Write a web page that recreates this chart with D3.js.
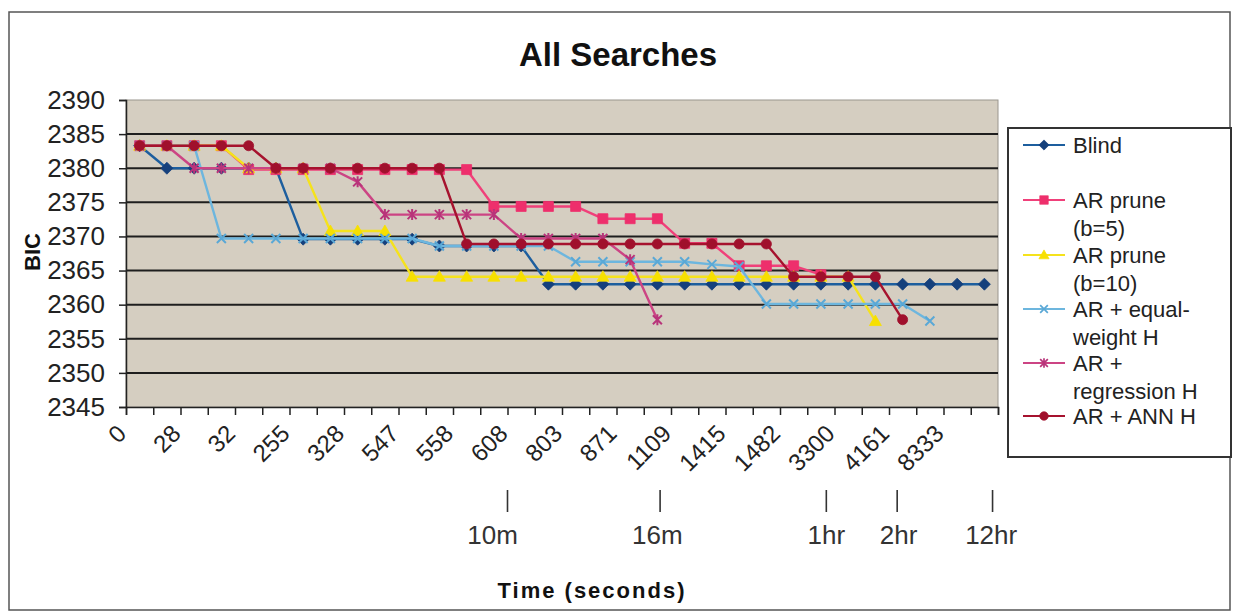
<!DOCTYPE html>
<html><head><meta charset="utf-8">
<script src="https://cdn.jsdelivr.net/npm/d3@7"></script>
<style>
html,body{margin:0;padding:0;background:#fff;}
svg{display:block;font-family:"Liberation Sans",Arial,sans-serif;}
</style></head><body>
<svg id="chart" width="1240" height="615"></svg>
<script>
// Search steps (category axis) and the elapsed-time label shown on every other step
const steps = d3.range(32);
const timeLabels = ["0","28","32","255","328","547","558","608","803","871","1109","1415","1482","3300","4161","8333"];

// Best BIC found so far, per step (null = search finished)
const blind      = [2383.3,2380,2380,2380,2380,2380,2369.6,2369.6,2369.6,2369.6,2369.6,2368.6,2368.6,2368.6,2368.6,2363,2363,2363,2363,2363,2363,2363,2363,2363,2363,2363,2363,2363,2363,2363,2363,2363];
const arPrune5   = [2383.3,2383.3,2383.3,2383.3,2379.8,2379.8,2379.8,2379.8,2379.8,2379.8,2379.8,2379.8,2379.8,2374.4,2374.4,2374.4,2374.4,2372.6,2372.6,2372.6,2369.0,2369.0,2365.7,2365.7,2365.7,2364.4,null,null,null,null,null,null];
const arPrune10  = [2383.3,2383.3,2383.3,2383.3,2380,2380,2380,2370.8,2370.8,2370.8,2364.1,2364.1,2364.1,2364.1,2364.1,2364.1,2364.1,2364.1,2364.1,2364.1,2364.1,2364.1,2364.1,2364.1,2364.1,2364.1,2364.1,2357.6,null,null,null,null];
const arEqualH   = [2383.3,2383.3,2383.3,2369.7,2369.7,2369.7,2369.7,2369.7,2369.7,2369.7,2369.7,2368.6,2368.6,2368.6,2368.6,2368.6,2366.3,2366.3,2366.3,2366.3,2366.3,2365.9,2365.6,2360.1,2360.1,2360.1,2360.1,2360.1,2360.1,2357.6,null,null];
const arRegressH = [2383.3,2383.3,2380,2380,2380,2380,2380,2380,2378.0,2373.2,2373.2,2373.2,2373.2,2373.2,2369.7,2369.7,2369.7,2369.7,2366.6,2357.8,null,null,null,null,null,null,null,null,null,null,null,null];
const arAnnH     = [2383.3,2383.3,2383.3,2383.3,2383.3,2380,2380,2380,2380,2380,2380,2380,2368.9,2368.9,2368.9,2368.9,2368.9,2368.9,2368.9,2368.9,2368.9,2368.9,2368.9,2368.9,2364.1,2364.1,2364.1,2364.1,2357.8,null,null,null];

const seriesNames = ["Blind","AR prune (b=5)","AR prune (b=10)","AR + equal-weight H","AR + regression H","AR + ANN H"];
const seriesValues = [blind, arPrune5, arPrune10, arEqualH, arRegressH, arAnnH];
const legendLines = [["Blind"],["AR prune","(b=5)"],["AR prune","(b=10)"],["AR + equal-","weight H"],["AR +","regression H"],["AR + ANN H"]];
const bicTicks = d3.range(2345, 2391, 5);

// Wall-clock landmarks under the axis, in step units
const timeMarks = [
  {label:"10m", at:14.0, textAt:13.45},
  {label:"16m", at:19.6, textAt:19.5},
  {label:"1hr", at:25.7, textAt:25.7},
  {label:"2hr", at:28.3, textAt:28.35},
  {label:"12hr", at:31.8, textAt:31.75}
];

// Line / marker styles per series
const styles = [
  {line:"#1d5e9e", fill:"#15407c", marker:"diamond"},
  {line:"#f0407a", fill:"#ee2f6c", marker:"square"},
  {line:"#f5e21c", fill:"#f7e000", marker:"triangle"},
  {line:"#6db6de", fill:"#5aa8d6", marker:"x"},
  {line:"#cc4484", fill:"#b8347a", marker:"star"},
  {line:"#a6122e", fill:"#a0102c", marker:"circle"}
];

const svg = d3.select("#chart");
const M = {left:126, right:998, top:100, bottom:407};

const x = d3.scaleLinear().domain([0, steps.length]).range([M.left, M.right]);
const cx = i => x(i + 0.5);
const y = d3.scaleLinear().domain([2345, 2390]).range([M.bottom, M.top]);

// chart frame
svg.append("rect").attr("x",9).attr("y",12).attr("width",1221).attr("height",598)
  .attr("fill","#fff").attr("stroke","#555").attr("stroke-width",1.5);

// title
svg.append("text").attr("x",618).attr("y",66).attr("text-anchor","middle")
  .attr("font-size",33).attr("font-weight","bold").attr("fill","#111").text("All Searches");

// plot area
svg.append("rect").attr("x",M.left).attr("y",M.top).attr("width",M.right-M.left).attr("height",M.bottom-M.top)
  .attr("fill","#d5cec1").attr("stroke","#9a968e").attr("stroke-width",1);

// horizontal gridlines
svg.append("g").selectAll("line").data(bicTicks.filter(v => v > 2345 && v < 2390)).join("line")
  .attr("x1",M.left).attr("x2",M.right).attr("y1",d=>y(d)).attr("y2",d=>y(d))
  .attr("stroke","#1e1e1e").attr("stroke-width",2);

// y axis
const yAxis = svg.append("g").attr("transform",`translate(${M.left},0)`)
  .call(d3.axisLeft(y).tickValues(bicTicks).tickSize(7).tickPadding(14).tickFormat(d3.format("d")));
yAxis.select(".domain").attr("stroke","#222").attr("stroke-width",1.5);
yAxis.selectAll(".tick line").attr("stroke","#222").attr("stroke-width",1.5);
yAxis.selectAll(".tick text").attr("font-size",26).attr("fill","#222").attr("font-family","Liberation Sans, Arial, sans-serif");

// x axis: tick marks between steps
const xAxis = svg.append("g").attr("transform",`translate(0,${M.bottom})`)
  .call(d3.axisBottom(x).tickValues(d3.range(steps.length + 1)).tickSize(8).tickFormat(""));
xAxis.select(".domain").attr("stroke","#222").attr("stroke-width",1.5);
xAxis.selectAll(".tick line").attr("stroke","#222").attr("stroke-width",1.5);

// rotated time labels on every other step
svg.append("g").selectAll("text").data(timeLabels).join("text")
  .attr("transform",(d,k)=>`translate(${cx(k*2)-12},${M.bottom+28}) rotate(-45)`)
  .attr("text-anchor","end").attr("font-size",24).attr("fill","#222").text(d=>d);

// axis titles
svg.append("text").attr("transform","translate(40,252) rotate(-90)").attr("text-anchor","middle")
  .attr("font-size",22).attr("font-weight","bold").attr("fill","#111").text("BIC");
svg.append("text").attr("x",592).attr("y",598).attr("text-anchor","middle")
  .attr("font-size",22).attr("font-weight","bold").attr("letter-spacing",2).attr("fill","#111").text("Time (seconds)");

// wall-clock landmarks
const tm = svg.append("g");
tm.selectAll("line").data(timeMarks).join("line")
  .attr("x1",d=>x(d.at)).attr("x2",d=>x(d.at)).attr("y1",490).attr("y2",512)
  .attr("stroke","#333").attr("stroke-width",1.6);
tm.selectAll("text").data(timeMarks).join("text")
  .attr("x",d=>x(d.textAt)).attr("y",544).attr("text-anchor","middle")
  .attr("font-size",26).attr("fill","#333").text(d=>d.label);

// marker shapes
function markerPath(kind){
  switch(kind){
    case "diamond": return "M0,-6L6,0L0,6L-6,0Z";
    case "square": return "M-5,-5H5V5H-5Z";
    case "triangle": return "M0,-6L6,4.5L-6,4.5Z";
    case "circle": return d3.symbol(d3.symbolCircle, 80)();
    case "x": return "M-4.5,-4.5L4.5,4.5M-4.5,4.5L4.5,-4.5";
    case "star": return "M-4.5,-4.5L4.5,4.5M-4.5,4.5L4.5,-4.5M0,-5.5V5.5";
  }
}
function drawMarker(g, kind, st){
  const p = g.append("path").attr("d", markerPath(kind));
  if (kind === "x" || kind === "star") p.attr("fill","none").attr("stroke",st.fill).attr("stroke-width",2);
  else p.attr("fill",st.fill).attr("stroke",st.fill).attr("stroke-width",0.8);
}

// series lines + markers
const line = d3.line().defined(d => d.v != null).x(d => cx(d.i)).y(d => y(d.v));
const plot = svg.append("g");
seriesValues.forEach((vals, s) => {
  const pts = vals.map((v,i)=>({i, v}));
  const st = styles[s];
  const g = plot.append("g");
  g.append("path").datum(pts).attr("d", line).attr("fill","none")
    .attr("stroke", st.line).attr("stroke-width",2.4).attr("stroke-linejoin","round");
  pts.filter(d=>d.v!=null).forEach(d=>{
    const mg = g.append("g").attr("transform",`translate(${cx(d.i)},${y(d.v)})`);
    drawMarker(mg, st.marker, st);
  });
});

// legend
const lg = svg.append("g");
lg.append("rect").attr("x",1008).attr("y",128).attr("width",223).attr("height",329)
  .attr("fill","#fff").attr("stroke","#333").attr("stroke-width",2);
const legendY = [145, 200, 255, 309, 363, 416];
seriesNames.forEach((name, s) => {
  const ly = legendY[s];
  const st = styles[s];
  lg.append("line").attr("x1",1023).attr("x2",1065).attr("y1",ly).attr("y2",ly)
    .attr("stroke",st.line).attr("stroke-width",2.2);
  const mg = lg.append("g").attr("transform",`translate(1044,${ly}) scale(0.85)`);
  drawMarker(mg, st.marker, st);
  legendLines[s].forEach((t, k) => {
    lg.append("text").attr("x",1073).attr("y",ly + 28*k).attr("dy","0.35em")
      .attr("font-size",22).attr("fill","#222").text(t);
  });
});
</script>
</body></html>
